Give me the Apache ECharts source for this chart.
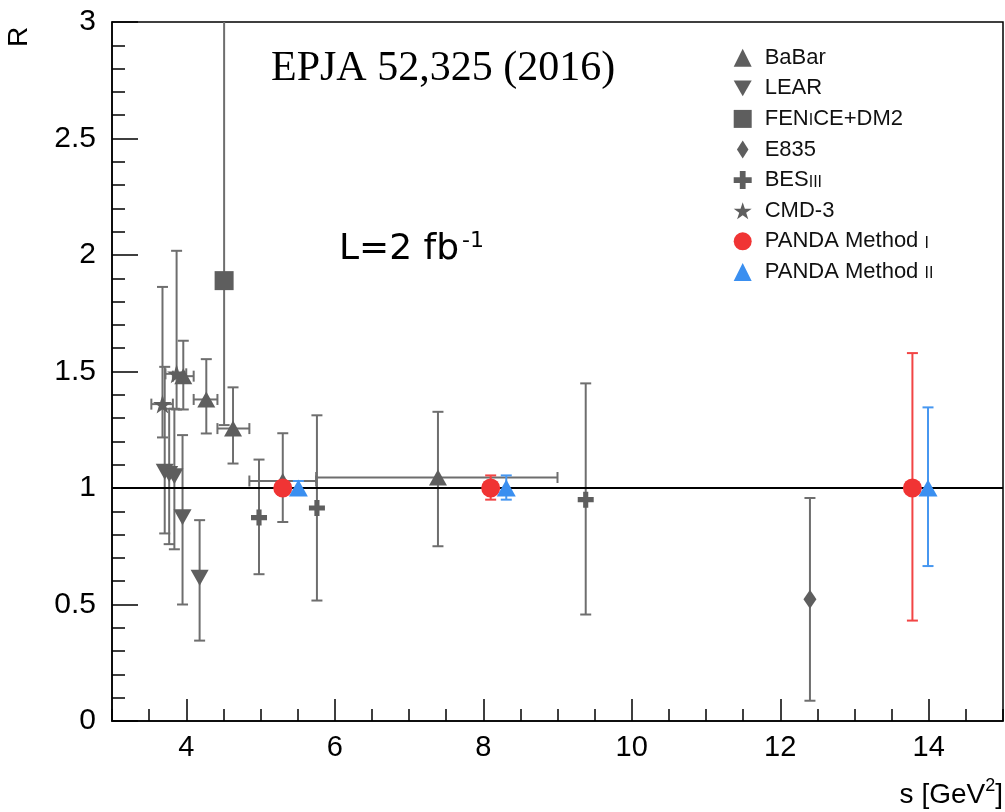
<!DOCTYPE html>
<html>
<head>
<meta charset="utf-8">
<script src="https://cdn.jsdelivr.net/npm/echarts@6/dist/echarts.min.js"></script>
<style>
  html, body { margin: 0; padding: 0; background: #ffffff; }
  #chart { width: 1005px; height: 812px; }
</style>
</head>
<body>
<div id="chart"></div>
<script>
// Ratio R versus s. Each row: [s, R, R low, R high, s low, s high];
// s low / s high are null where a point has no horizontal bar.
const babar = [
  [3.96, 1.48, 1.337, 1.632, 3.82, 4.10],
  [4.27, 1.38, 1.234, 1.553, 4.10, 4.42],
  [4.63, 1.255, 1.105, 1.432, 4.42, 4.85],
  [5.30, 1.03, 0.854, 1.235, 4.85, 5.75],
  [7.39, 1.045, 0.75, 1.327, 5.75, 9.00]
];
const lear = [
  [3.71, 1.07, 0.805, 1.52, null, null],
  [3.77, 1.06, 0.759, 1.34, null, null],
  [3.84, 1.05, 0.737, 1.34, null, null],
  [3.95, 0.875, 0.50, 1.227, null, null],
  [4.18, 0.615, 0.345, 0.862, null, null]
];
const feniceDm2 = [
  [4.51, 1.89, 1.27, 3.40, null, null]
];
const e835 = [
  [12.40, 0.522, 0.087, 0.957, null, null]
];
const besiii = [
  [4.98, 0.873, 0.63, 1.122, null, null],
  [5.76, 0.914, 0.517, 1.312, null, null],
  [9.38, 0.95, 0.457, 1.449, null, null]
];
const cmd3 = [
  [3.68, 1.36, 1.217, 1.863, 3.53, 3.82],
  [3.87, 1.49, 1.337, 2.018, 3.72, 4.00]
];
const pandaMethod1 = [
  [5.30, 1.0, 0.97, 1.03, null, null],
  [8.10, 1.0, 0.95, 1.054, null, null],
  [13.78, 1.0, 0.431, 1.579, null, null]
];
const pandaMethod2 = [
  [5.51, 1.0, 0.97, 1.03, null, null],
  [8.31, 1.0, 0.95, 1.054, null, null],
  [13.99, 1.0, 0.665, 1.346, null, null]
];

// Axis ranges and tick positions
const sRange = [3, 15];
const sLabels = [4, 6, 8, 10, 12, 14];
const sMinorStep = 0.5;
const rRange = [0, 3];
const rStep = 0.5;
const referenceR = 1;

// Legend labels (small-caps parts marked with {s|...})
const legendText = {
  'BaBar': 'BaBar',
  'LEAR': 'LEAR',
  'FENICE+DM2': 'FEN{s|I}CE+DM2',
  'E835': 'E835',
  'BESIII': 'BES{s|III}',
  'CMD-3': 'CMD-3',
  'PANDA Method I': 'PANDA Method {s|I}',
  'PANDA Method II': 'PANDA Method {s|II}'
};

const GREY = '#5e5e5e';
const GREY_BAR = '#6e6e6e';
const RED = '#f03434';
const RED_BAR = '#f24545';
const BLUE = '#3a8ff0';
const BLUE_BAR = '#4797f0';

const SYM = {
  down: 'path://M0,0 L100,0 L50,88 Z',
  plus: 'path://M34,0 H66 V34 H100 V66 H66 V100 H34 V66 H0 V34 H34 Z',
  star: 'path://M50,0 L61.8,35.4 L99,35.4 L68.9,57.3 L80.4,92.7 L50,70.8 L19.6,92.7 L31.1,57.3 L1,35.4 L38.2,35.4 Z',
  diamond: 'path://M50,0 L82,50 L50,100 L18,50 Z'
};

function finite(v) { return typeof v === 'number' && isFinite(v); }

// Vertical (and optional horizontal) error bars with end caps
function errorBarRenderer(color) {
  return function (params, api) {
    const cs = params.coordSys;
    const top = cs.y;
    const s = api.value(0), r = api.value(1);
    const lo = api.coord([s, api.value(2)]);
    const hi = api.coord([s, api.value(3)]);
    const cap = 5.5;
    const style = { stroke: color, lineWidth: 2, fill: null };
    const yTop = Math.max(hi[1], top);
    const kids = [
      { type: 'line', shape: { x1: lo[0], y1: lo[1], x2: hi[0], y2: yTop }, style: style },
      { type: 'line', shape: { x1: lo[0] - cap, y1: lo[1], x2: lo[0] + cap, y2: lo[1] }, style: style }
    ];
    if (hi[1] >= top) {
      kids.push({ type: 'line', shape: { x1: hi[0] - cap, y1: hi[1], x2: hi[0] + cap, y2: hi[1] }, style: style });
    }
    const sLo = api.value(4), sHi = api.value(5);
    if (finite(sLo) && finite(sHi)) {
      const a = api.coord([sLo, r]);
      const b = api.coord([sHi, r]);
      kids.push({ type: 'line', shape: { x1: a[0], y1: a[1], x2: b[0], y2: b[1] }, style: style });
      kids.push({ type: 'line', shape: { x1: a[0], y1: a[1] - cap, x2: a[0], y2: a[1] + cap }, style: style });
      kids.push({ type: 'line', shape: { x1: b[0], y1: b[1] - cap, x2: b[0], y2: b[1] + cap }, style: style });
    }
    return { type: 'group', children: kids };
  };
}

function errorSeries(id, rows, color, z) {
  return {
    type: 'custom',
    id: id,
    name: id,
    renderItem: errorBarRenderer(color),
    dimensions: ['s', 'R', 'lo', 'hi', 'sLo', 'sHi'],
    encode: { x: 's', y: 'R' },
    data: rows,
    silent: true,
    z: z
  };
}

function markerSeries(name, rows, symbol, size, color, z) {
  return {
    type: 'scatter',
    name: name,
    data: rows.map(function (row) { return [row[0], row[1]]; }),
    symbol: symbol,
    symbolSize: size,
    itemStyle: { color: color, opacity: 1 },
    silent: true,
    z: z
  };
}

const chart = echarts.init(document.getElementById('chart'), null, { renderer: 'canvas' });

const axisFont = 'Liberation Sans';
const tickLine = { color: '#000', width: 1.5 };

chart.setOption({
  animation: false,
  backgroundColor: '#ffffff',
  grid: {
    left: 112, right: 2, top: 22, bottom: 91,
    show: true, borderColor: '#000', borderWidth: 1.5, backgroundColor: 'transparent'
  },
  xAxis: [
    {
      // labelled axis: long ticks at the even values
      type: 'value',
      min: sRange[0], max: sRange[1],
      axisLine: { show: true, onZero: false, lineStyle: tickLine },
      axisTick: { show: true, inside: true, length: 22, lineStyle: tickLine, customValues: sLabels },
      splitLine: { show: false },
      axisLabel: { color: '#000', fontFamily: axisFont, fontSize: 29, margin: 12, customValues: sLabels }
    },
    {
      // short ticks every half unit
      type: 'value', position: 'bottom', offset: 0,
      min: sRange[0], max: sRange[1], interval: sMinorStep,
      axisLine: { show: false },
      axisTick: { show: true, inside: true, length: 12, lineStyle: tickLine },
      axisLabel: { show: false },
      splitLine: { show: false }
    }
  ],
  yAxis: {
    type: 'value',
    min: rRange[0], max: rRange[1], interval: rStep,
    axisLine: { show: true, onZero: false, lineStyle: tickLine },
    axisTick: { show: true, inside: true, length: 26, lineStyle: tickLine },
    minorTick: { show: true, splitNumber: 5, length: 13, lineStyle: tickLine },
    splitLine: { show: false },
    axisLabel: { color: '#000', fontFamily: axisFont, fontSize: 30, margin: 16 }
  },
  legend: {
    orient: 'vertical',
    left: 733.7, top: 46.7, padding: 0,
    itemWidth: 18, itemHeight: 18, itemGap: 8.6,
    selectedMode: false,
    symbolKeepAspect: true,
    formatter: function (name) { return legendText[name]; },
    textStyle: {
      color: '#111', fontFamily: axisFont, fontSize: 22, lineHeight: 20,
      padding: [0, 0, 0, 8],
      rich: {
        s: { fontFamily: axisFont, fontSize: 16, lineHeight: 16, verticalAlign: 'bottom', color: '#111' }
      }
    },
    data: [
      { name: 'BaBar', icon: 'triangle' },
      { name: 'LEAR', icon: SYM.down },
      { name: 'FENICE+DM2', icon: 'rect' },
      { name: 'E835', icon: SYM.diamond },
      { name: 'BESIII', icon: SYM.plus },
      { name: 'CMD-3', icon: SYM.star },
      { name: 'PANDA Method I', icon: 'circle' },
      { name: 'PANDA Method II', icon: 'triangle' }
    ]
  },
  graphic: [
    {
      type: 'text', x: 271, y: 69, z: 10,
      style: { text: 'EPJA 52,325 (2016)', fill: '#000', font: '42px "Liberation Serif"', verticalAlign: 'middle' }
    },
    {
      type: 'text', x: 339, y: 249, z: 10,
      style: {
        text: '{m|L=2 fb}{sup|-1}', verticalAlign: 'middle',
        rich: {
          m: { font: '36px "DejaVu Sans"', fill: '#000', lineHeight: 38, verticalAlign: 'bottom' },
          sup: { font: '22px "DejaVu Sans"', fill: '#000', lineHeight: 38, verticalAlign: 'top', padding: [0, 0, 0, 3] }
        }
      }
    },
    {
      type: 'text', x: 19, y: 37, rotation: Math.PI / 2, z: 10,
      style: { text: 'R', fill: '#000', font: '28px "Liberation Sans"', align: 'center', verticalAlign: 'middle' }
    },
    {
      type: 'text', x: 1003, y: 793, z: 10,
      style: {
        text: '{a|s [GeV}{sup|2}{a|]}', align: 'right', verticalAlign: 'middle',
        rich: {
          a: { font: '28px "Liberation Sans"', fill: '#000', lineHeight: 32, verticalAlign: 'bottom' },
          sup: { font: '18px "Liberation Sans"', fill: '#000', lineHeight: 32, verticalAlign: 'top' }
        }
      }
    }
  ],
  series: [
    {
      type: 'line', name: 'reference', data: [], silent: true, z: 1,
      markLine: {
        silent: true, symbol: ['none', 'none'], label: { show: false },
        lineStyle: { color: '#000', width: 2, type: 'solid' },
        data: [{ yAxis: referenceR }]
      }
    },
    errorSeries('babar-err', babar, GREY_BAR, 2),
    errorSeries('lear-err', lear, GREY_BAR, 2),
    errorSeries('fenice-err', feniceDm2, GREY_BAR, 2),
    errorSeries('e835-err', e835, GREY_BAR, 2),
    errorSeries('besiii-err', besiii, GREY_BAR, 2),
    errorSeries('cmd3-err', cmd3, GREY_BAR, 2),
    errorSeries('panda1-err', pandaMethod1, RED_BAR, 4),
    errorSeries('panda2-err', pandaMethod2, BLUE_BAR, 4),
    markerSeries('BaBar', babar, 'triangle', [18, 16], GREY, 3),
    markerSeries('LEAR', lear, SYM.down, [18, 16], GREY, 3),
    markerSeries('FENICE+DM2', feniceDm2, 'rect', 19, GREY, 3),
    markerSeries('E835', e835, SYM.diamond, [13, 19], GREY, 3),
    markerSeries('BESIII', besiii, SYM.plus, 16, GREY, 3),
    markerSeries('CMD-3', cmd3, SYM.star, 19, GREY, 3),
    markerSeries('PANDA Method I', pandaMethod1, 'circle', 19, RED, 5),
    markerSeries('PANDA Method II', pandaMethod2, 'triangle', [19, 17], BLUE, 5)
  ]
});
</script>
</body>
</html>
